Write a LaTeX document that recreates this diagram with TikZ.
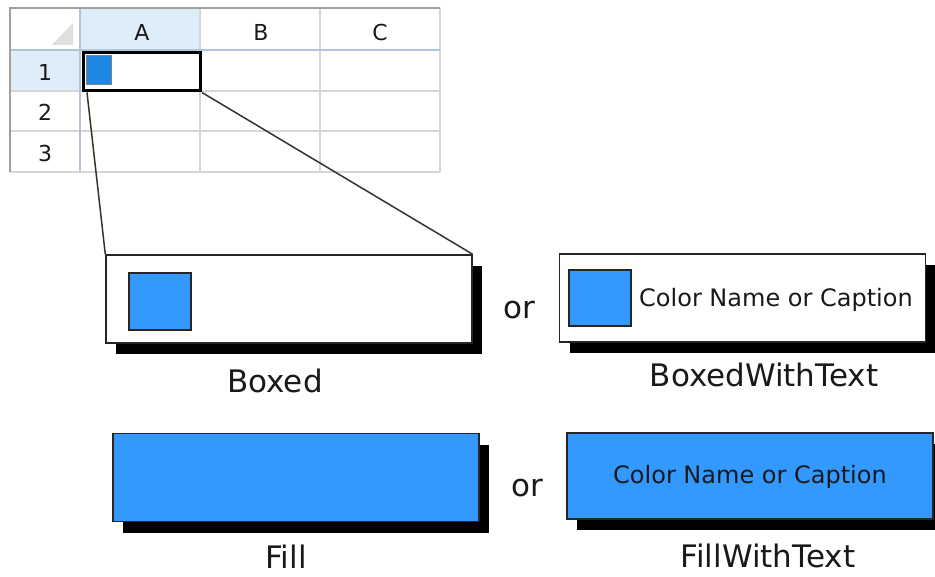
\documentclass[tikz,border=0pt]{standalone}
\usepackage{fontspec}
\setmainfont{DejaVu Sans}
\usetikzlibrary{shadows,positioning}
\definecolor{swatchBlue}{RGB}{51,153,255}
\definecolor{cellBlue}{RGB}{30,136,229}
\definecolor{headFill}{RGB}{222,238,248}
\definecolor{gridGray}{RGB}{214,214,214}
\definecolor{gridBlue}{RGB}{176,196,222}
\definecolor{frameGray}{RGB}{160,160,160}
\definecolor{textDark}{RGB}{25,25,25}

\begin{document}
\begin{tikzpicture}[
  x=1pt, y=-1pt,
  caption/.style={font=\fontsize{31}{36}\selectfont, text=textDark},
  boxtext/.style={font=\fontsize{24}{28}\selectfont, text=textDark},
  cellhead/.style={font=\fontsize{22}{26}\selectfont, text=textDark},
  stylebox/.style={draw=black!85, line width=1.4pt, inner sep=0pt,
    minimum width=366pt, minimum height=88pt,
    drop shadow={fill=black, opacity=1, shadow xshift=10pt, shadow yshift=-11pt}},
  swatch/.style={draw=black!85, line width=1.2pt, fill=swatchBlue, inner sep=0pt,
    minimum width=62pt, minimum height=57pt},
  grid/.style={draw=gridGray, line width=1.2pt},
  zoomline/.style={draw=black!80, line width=1.5pt}
]
\useasboundingbox (0,0) rectangle (935,577);

% Spreadsheet headers.
\fill[headFill] (80,8) rectangle (200,50);
\fill[headFill] (10,50) rectangle (80,91);
\fill[gray!25] (52,45) -- (73,45) -- (73,23) -- cycle;

% Spreadsheet grid.
\foreach \gy in {91,131,172}
  \draw[grid] (10,\gy) -- (440,\gy);
\foreach \gx in {200,320,440}
  \draw[grid] (\gx,8) -- (\gx,172);
\draw[draw=gridBlue, line width=1.2pt] (10,50) -- (440,50);
\draw[draw=gridBlue, line width=1.2pt] (80,8) -- (80,172);
\draw[draw=frameGray, line width=2.4pt] (10,172) -- (10,8) -- (440,8);

\node[cellhead] (colA) at (142,32) {A};
\node[cellhead] (colB) at (261,32) {B};
\node[cellhead] (colC) at (380,32) {C};
\node[cellhead] (row1) at (45,72) {1};
\node[cellhead] (row2) at (45,112) {2};
\node[cellhead] (row3) at (45,153) {3};

% Selected cell with its small swatch.
\node[draw=black, line width=3pt, inner sep=0pt, minimum width=117pt,
  minimum height=38pt] (cellA) at (142,72) {};
\node[draw=gray, line width=1.5pt, fill=cellBlue, inner sep=0pt,
  minimum width=25pt, minimum height=29pt] (cellSwatch) at (99,70) {};

% The four display styles.
\node[stylebox, fill=white] (boxed) at (289,299) {};
\node[swatch] (boxedSwatch) at (160,301.5) {};
\node[caption] (boxedLabel) at (275,381) {Boxed};

\node[stylebox, fill=white] (boxedText) at (742.5,298) {};
\node[swatch, minimum height=56pt] (boxedTextSwatch) at (600,298) {};
\node[boxtext] (boxedTextName) at (776,300) {Color Name or Caption};
\node[caption] (boxedTextLabel) at (764,375) {BoxedWithText};

\node[stylebox, fill=swatchBlue] (fill) at (296,477.5) {};
\node[caption] (fillLabel) at (286,557) {Fill};

\node[stylebox, fill=swatchBlue, minimum height=86pt] (fillText) at (750,476) {};
\node[boxtext] (fillTextName) at (750,477) {Color Name or Caption};
\node[caption] (fillTextLabel) at (768,556) {FillWithText};

\node[caption] (orTop) at (519,310) {or};
\node[caption] (orBottom) at (527,488) {or};

% Zoom lines from the cell to the boxed style.
\draw[zoomline] ([xshift=5pt]cellA.south west) -- (boxed.north west);
\draw[zoomline] (cellA.south east) -- (boxed.north east);

\end{tikzpicture}
\end{document}
